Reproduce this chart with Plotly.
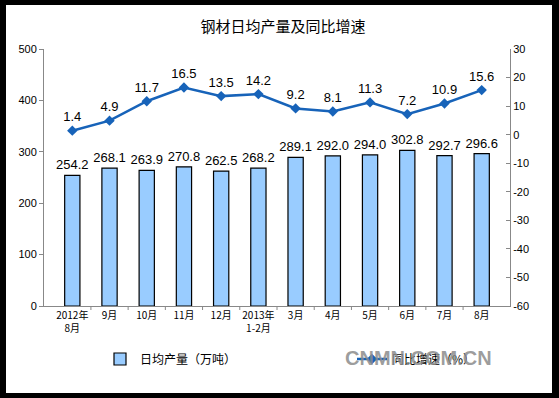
import plotly.graph_objects as go

categories = ["2012年<br>8月", "9月", "10月", "11月", "12月", "2013年<br>1-2月",
              "3月", "4月", "5月", "6月", "7月", "8月"]
output_values = [254.2, 268.1, 263.9, 270.8, 262.5, 268.2, 289.1, 292.0, 294.0, 302.8, 292.7, 296.6]
growth_values = [1.4, 4.9, 11.7, 16.5, 13.5, 14.2, 9.2, 8.1, 11.3, 7.2, 10.9, 15.6]
left_ticks = [0, 100, 200, 300, 400, 500]
right_ticks = [30, 20, 10, 0, -10, -20, -30, -40, -50, -60]

W, H = 559, 398
L, R, T, B = 44, 49, 49, 92
pw, ph = W - L - R, H - T - B

def px(x):
    return (x - L) / pw

def py(y):
    return (H - B - y) / ph

fig = go.Figure()
fig.add_trace(go.Bar(
    x=categories, y=output_values, name="日均产量（万吨）", legend="legend",
    marker=dict(color="#99CCFF", line=dict(color="#000000", width=1.2)),
    text=[f"{v:.1f}" for v in output_values], textposition="outside",
    constraintext="none",
    textfont=dict(size=13, color="#000000", family="Liberation Sans"),
    cliponaxis=False,
))
fig.add_trace(go.Scatter(
    x=categories, y=growth_values, name="同比增速（%）", yaxis="y2", legend="legend2",
    mode="lines+markers+text",
    line=dict(color="#1763B9", width=2.5),
    marker=dict(symbol="diamond", size=8, color="#1763B9"),
    text=[f"{v:.1f}" for v in growth_values], textposition="top center",
    textfont=dict(size=13, color="#000000", family="Liberation Sans"),
    cliponaxis=False,
))

legend_common = dict(
    orientation="h", yanchor="middle", y=py(359), xanchor="left",
    bgcolor="rgba(0,0,0,0)",
    font=dict(size=12, color="#000000", family="Noto Sans CJK SC"),
)

fig.update_layout(
    width=W, height=H,
    margin=dict(l=L, r=R, t=T, b=B),
    paper_bgcolor="#000000", plot_bgcolor="#FFFFFF",
    bargap=0.59,
    showlegend=True,
    title=dict(text="钢材日均产量及同比增速", x=px(280), xanchor="center",
               y=1 - 27 / H, yanchor="middle",
               font=dict(size=15, color="#000000", family="Noto Sans CJK SC")),
    xaxis=dict(
        type="category", showgrid=False, showline=True, linecolor="#888888",
        ticks="", tickfont=dict(size=10, color="#000000", family="Noto Sans CJK SC"),
        fixedrange=True,
    ),
    yaxis=dict(
        range=[0, 500], tickvals=left_ticks, showgrid=False, zeroline=False,
        showline=True, linecolor="#888888", ticks="outside", ticklen=4, tickcolor="#888888",
        tickfont=dict(size=11, color="#000000", family="Liberation Sans"),
    ),
    yaxis2=dict(
        range=[-60, 30], tickvals=right_ticks, ticktext=[str(v) for v in right_ticks],
        overlaying="y", side="right",
        showgrid=False, zeroline=False, showline=True, linecolor="#888888",
        ticks="inside", ticklen=4, tickcolor="#888888",
        tickfont=dict(size=11, color="#000000", family="Liberation Sans"),
    ),
    legend=dict(x=px(100), **legend_common),
    legend2=dict(x=px(352), **legend_common),
    shapes=[
        dict(type="rect", xref="paper", yref="paper", layer="below",
             x0=px(6), x1=px(552), y0=py(393), y1=py(5),
             fillcolor="#FFFFFF", line=dict(width=0)),
    ],
    annotations=[
        dict(text="<b>CNMN.COM.CN</b>", xref="paper", yref="paper", x=px(343), y=py(358),
             xanchor="left", yanchor="middle", showarrow=False,
             font=dict(size=20, color="rgba(140,140,140,0.85)", family="Liberation Sans"),
             ),
    ],
)

# x-axis tick dividers between categories
for i in range(1, 12):
    fig.add_shape(type="line", xref="x", yref="paper", x0=i - 0.5, x1=i - 0.5,
                  y0=0, y1=-4 / ph, line=dict(color="#888888", width=1))

fig.write_html("out.html", config={"displayModeBar": False},
               post_script="document.body.style.margin='0';document.body.style.background='#000';")
